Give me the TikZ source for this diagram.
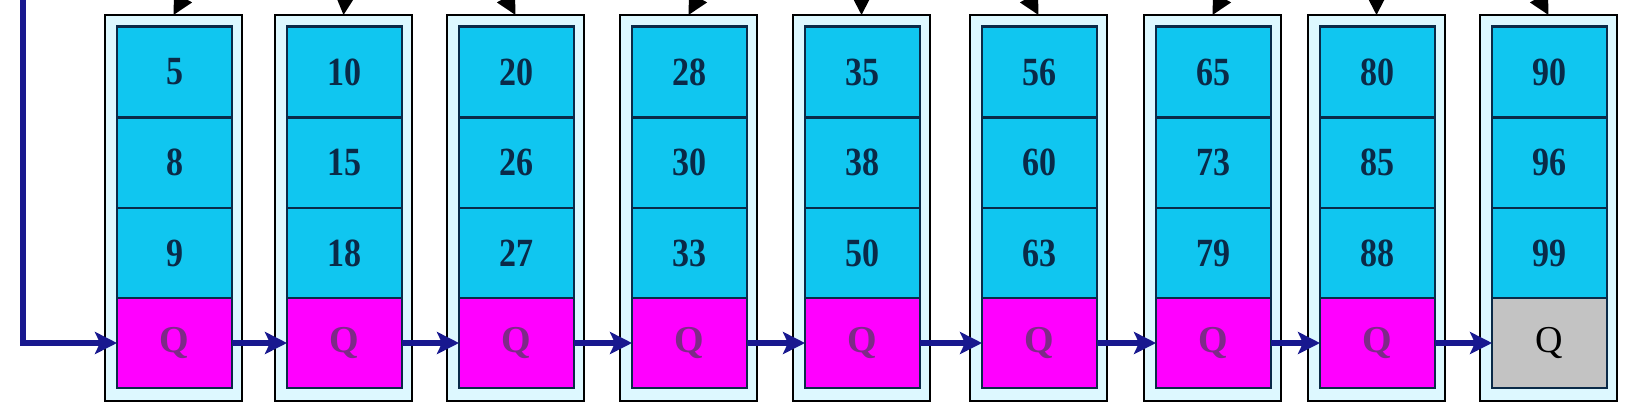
\documentclass[tikz,border=0pt]{standalone}
\usepackage{fontspec}
\setmainfont{Liberation Serif}
\newfontfamily\keyfont{Liberation Serif}[FakeStretch=0.85]
\usetikzlibrary{arrows.meta}

\definecolor{block background color}{HTML}{DDF8FF}
\definecolor{key color}{HTML}{10C6F0}
\definecolor{key line color}{HTML}{0A2A48}
\definecolor{next color}{HTML}{FF00FF}
\definecolor{next text color}{HTML}{7E2A88}
\definecolor{tail color}{HTML}{C3C3C3}
\definecolor{link color}{HTML}{18188F}
\tikzset{
    x={1pt},
    y={-1pt},
    block/.style={
        draw=black, fill=block background color,
        line width={2.2pt},
        inner sep=0pt, outer sep=0pt,
        minimum width={137},
        minimum height={386},
    },
    field/.style={
        draw=key line color,
        line width={1.8pt},
        inner sep=0pt, outer sep=0pt,
        minimum width={115},
        minimum height={90.5},
        font={\keyfont\fontsize{40}{40}\selectfont\bfseries},
        text=key line color,
    },
    key/.style={
        field, fill=key color,
    },
    first key/.style={
        key, line width={2.8pt},
    },
    next field/.style={
        field, fill=next color,
        text=next text color,
        font={\fontsize{38}{38}\selectfont\bfseries},
    },
    tail field/.style={
        field, fill=tail color,
        text=black,
        font={\fontsize{38}{38}\selectfont},
    },
    link/.style={
        draw=link color,
        line width={6pt},
        -{Stealth[length=22pt, width=22pt, inset=5pt]},
    },
    entry/.style={
        draw=black,
        line width={2.5pt},
        -{Triangle[length=20pt, width=20pt]},
    },
}

\begin{document}
\begin{tikzpicture}
\path[fill=white] (0,0) rectangle (1640,413);
\useasboundingbox (0,0) rectangle (1640,413);
\clip (0,0) rectangle (1640,413);
% blocks
\node[block] (block1) at (173.5,208) {};
\node[block] (block2) at (343.5,208) {};
\node[block] (block3) at (515.5,208) {};
\node[block] (block4) at (688.5,208) {};
\node[block] (block5) at (861.5,208) {};
\node[block] (block6) at (1038.5,208) {};
\node[block] (block7) at (1212.5,208) {};
\node[block] (block8) at (1376.5,208) {};
\node[block] (block9) at (1548.5,208) {};
% keys
\node[key] (key1b) at (174.5,162.5) {8};
\node[key] (key1c) at (174.5,253) {9};
\node[first key] (key1a) at (174.5,72) {5};
\node[key] (key2b) at (344.5,162.5) {15};
\node[key] (key2c) at (344.5,253) {18};
\node[first key] (key2a) at (344.5,72) {10};
\node[key] (key3b) at (516.5,162.5) {26};
\node[key] (key3c) at (516.5,253) {27};
\node[first key] (key3a) at (516.5,72) {20};
\node[key] (key4b) at (689.5,162.5) {30};
\node[key] (key4c) at (689.5,253) {33};
\node[first key] (key4a) at (689.5,72) {28};
\node[key] (key5b) at (862.5,162.5) {38};
\node[key] (key5c) at (862.5,253) {50};
\node[first key] (key5a) at (862.5,72) {35};
\node[key] (key6b) at (1039.5,162.5) {60};
\node[key] (key6c) at (1039.5,253) {63};
\node[first key] (key6a) at (1039.5,72) {56};
\node[key] (key7b) at (1213.5,162.5) {73};
\node[key] (key7c) at (1213.5,253) {79};
\node[first key] (key7a) at (1213.5,72) {65};
\node[key] (key8b) at (1377.5,162.5) {85};
\node[key] (key8c) at (1377.5,253) {88};
\node[first key] (key8a) at (1377.5,72) {80};
\node[key] (key9b) at (1549.5,162.5) {96};
\node[key] (key9c) at (1549.5,253) {99};
\node[first key] (key9a) at (1549.5,72) {90};
% next fields
\node[next field] (next1) at (174.5,343) {Q};
\node[next field] (next2) at (344.5,343) {Q};
\node[next field] (next3) at (516.5,343) {Q};
\node[next field] (next4) at (689.5,343) {Q};
\node[next field] (next5) at (862.5,343) {Q};
\node[next field] (next6) at (1039.5,343) {Q};
\node[next field] (next7) at (1213.5,343) {Q};
\node[next field] (next8) at (1377.5,343) {Q};
\node[tail field] (next9) at (1549.5,343) {Q};
% links
\coordinate (loop start) at (23,-20);
\path[link] (loop start) |- (next1.west);
\path[link] (next1.east) -- (next2.west);
\path[link] (next2.east) -- (next3.west);
\path[link] (next3.east) -- (next4.west);
\path[link] (next4.east) -- (next5.west);
\path[link] (next5.east) -- (next6.west);
\path[link] (next6.east) -- (next7.west);
\path[link] (next7.east) -- (next8.west);
\path[link] (next8.east) -- (next9.west);
% entries
\coordinate (entry1) at (203.5,-40);
\coordinate (entry2) at (348.5,-40);
\coordinate (entry3) at (485.5,-40);
\coordinate (entry4) at (718.5,-40);
\coordinate (entry5) at (861.5,-40);
\coordinate (entry6) at (1008.5,-40);
\coordinate (entry7) at (1242.5,-40);
\coordinate (entry8) at (1376.5,-40);
\coordinate (entry9) at (1518.5,-40);
\path[entry] (entry1) -- (block1.north);
\path[entry] (entry2) -- (block2.north);
\path[entry] (entry3) -- (block3.north);
\path[entry] (entry4) -- (block4.north);
\path[entry] (entry5) -- (block5.north);
\path[entry] (entry6) -- (block6.north);
\path[entry] (entry7) -- (block7.north);
\path[entry] (entry8) -- (block8.north);
\path[entry] (entry9) -- (block9.north);
\end{tikzpicture}
\end{document}
